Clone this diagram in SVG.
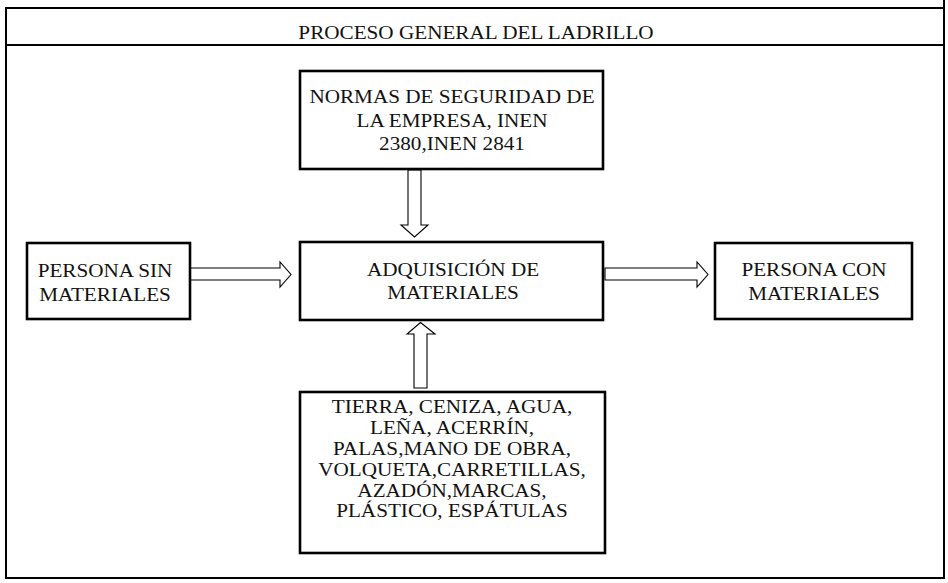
<svg xmlns="http://www.w3.org/2000/svg" width="948" height="583" viewBox="0 0 948 583">
<style>
.frame{stroke:#000;stroke-width:2;fill:none}
.box{fill:#fff;stroke:#000;stroke-width:2.6}
.arrow{fill:#fff;stroke:#000;stroke-width:1.1;stroke-linejoin:miter}
text{font-family:"Liberation Serif","Times New Roman",serif;font-size:17.8px;fill:#111;text-anchor:middle}
</style>
<rect width="948" height="583" fill="#fff"/>
<g id="frame">
<line class="frame" x1="6" y1="8" x2="944" y2="8"/>
<line class="frame" x1="6" y1="45" x2="944" y2="45"/>
<line class="frame" x1="6" y1="7" x2="6" y2="579"/>
<line class="frame" x1="944" y1="0" x2="944" y2="579"/>
<line class="frame" x1="5" y1="578" x2="945" y2="578"/>
<g transform="translate(476,0) scale(1.19,1)"><text x="0" y="39">PROCESO GENERAL DEL LADRILLO</text></g>
</g>
<g id="connectors">
<polygon class="arrow" points="190,268 280,268 280,262 291,274.5 280,287 280,280 190,280"/>
<polygon class="arrow" points="605,268 697,268 697,262 708,274.5 697,287 697,280 605,280"/>
<polygon class="arrow" points="408,170 421,170 421,225 428,225 414.5,237 401,225 408,225"/>
<polygon class="arrow" points="414,388 427,388 427,334 435,334 420.5,322.5 407,334 414,334"/>
</g>
<g id="normas">
<rect class="box" x="300" y="71" width="303" height="98"/>
<g transform="translate(452,0) scale(1.19,1)">
<text x="0" y="103.5">NORMAS DE SEGURIDAD DE</text>
<text x="0" y="127">LA EMPRESA, INEN</text>
<text x="0" y="150.5">2380,INEN 2841</text>
</g>
</g>
<g id="persona-sin">
<rect class="box" x="27" y="243" width="163" height="76"/>
<g transform="translate(105,0) scale(1.19,1)">
<text x="0" y="277">PERSONA SIN</text>
<text x="0" y="301.5">MATERIALES</text>
</g>
</g>
<g id="adquisicion">
<rect class="box" x="300" y="242" width="303" height="78"/>
<g transform="translate(453,0) scale(1.19,1)">
<text x="0" y="276">ADQUISICIÓN DE</text>
<text x="0" y="299.5">MATERIALES</text>
</g>
</g>
<g id="persona-con">
<rect class="box" x="715" y="243" width="197" height="76"/>
<g transform="translate(814,0) scale(1.19,1)">
<text x="0" y="276.5">PERSONA CON</text>
<text x="0" y="300.5">MATERIALES</text>
</g>
</g>
<g id="materiales">
<rect class="box" x="300" y="392" width="305" height="161"/>
<g transform="translate(452,0) scale(1.19,1)">
<text x="0" y="413.5">TIERRA, CENIZA, AGUA,</text>
<text x="0" y="434.3">LEÑA, ACERRÍN,</text>
<text x="0" y="455.1">PALAS,MANO DE OBRA,</text>
<text x="0" y="475.9">VOLQUETA,CARRETILLAS,</text>
<text x="0" y="496.7">AZADÓN,MARCAS,</text>
<text x="0" y="517.5">PLÁSTICO, ESPÁTULAS</text>
</g>
</g>
</svg>
